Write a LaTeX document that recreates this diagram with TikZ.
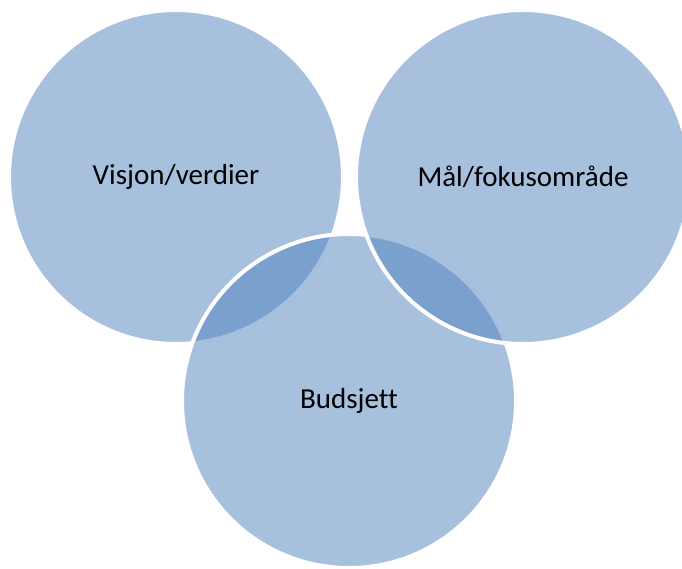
\documentclass[tikz,border=0pt]{standalone}
\usepackage{fontspec}
\setmainfont{Carlito}[Ligatures=NoCommon]
\definecolor{accent}{HTML}{4F81BD}
\begin{document}
\begin{tikzpicture}[x=1pt,y=-1pt,
  venn/.style={circle, minimum size=334pt, inner sep=0pt, fill=accent, fill opacity=0.5, text opacity=1, draw=white, line width=4pt, font=\fontsize{29}{34}\selectfont, text=black}]
\useasboundingbox (0,0) rectangle (682,568);
\node[venn] (vis) at (176,177) {Visjon/verdier};
\node[venn] (bud) at (349,401) {Budsjett};
\node[venn] (mal) at (523,177) {Mål/fokusområde};
\end{tikzpicture}
\end{document}
